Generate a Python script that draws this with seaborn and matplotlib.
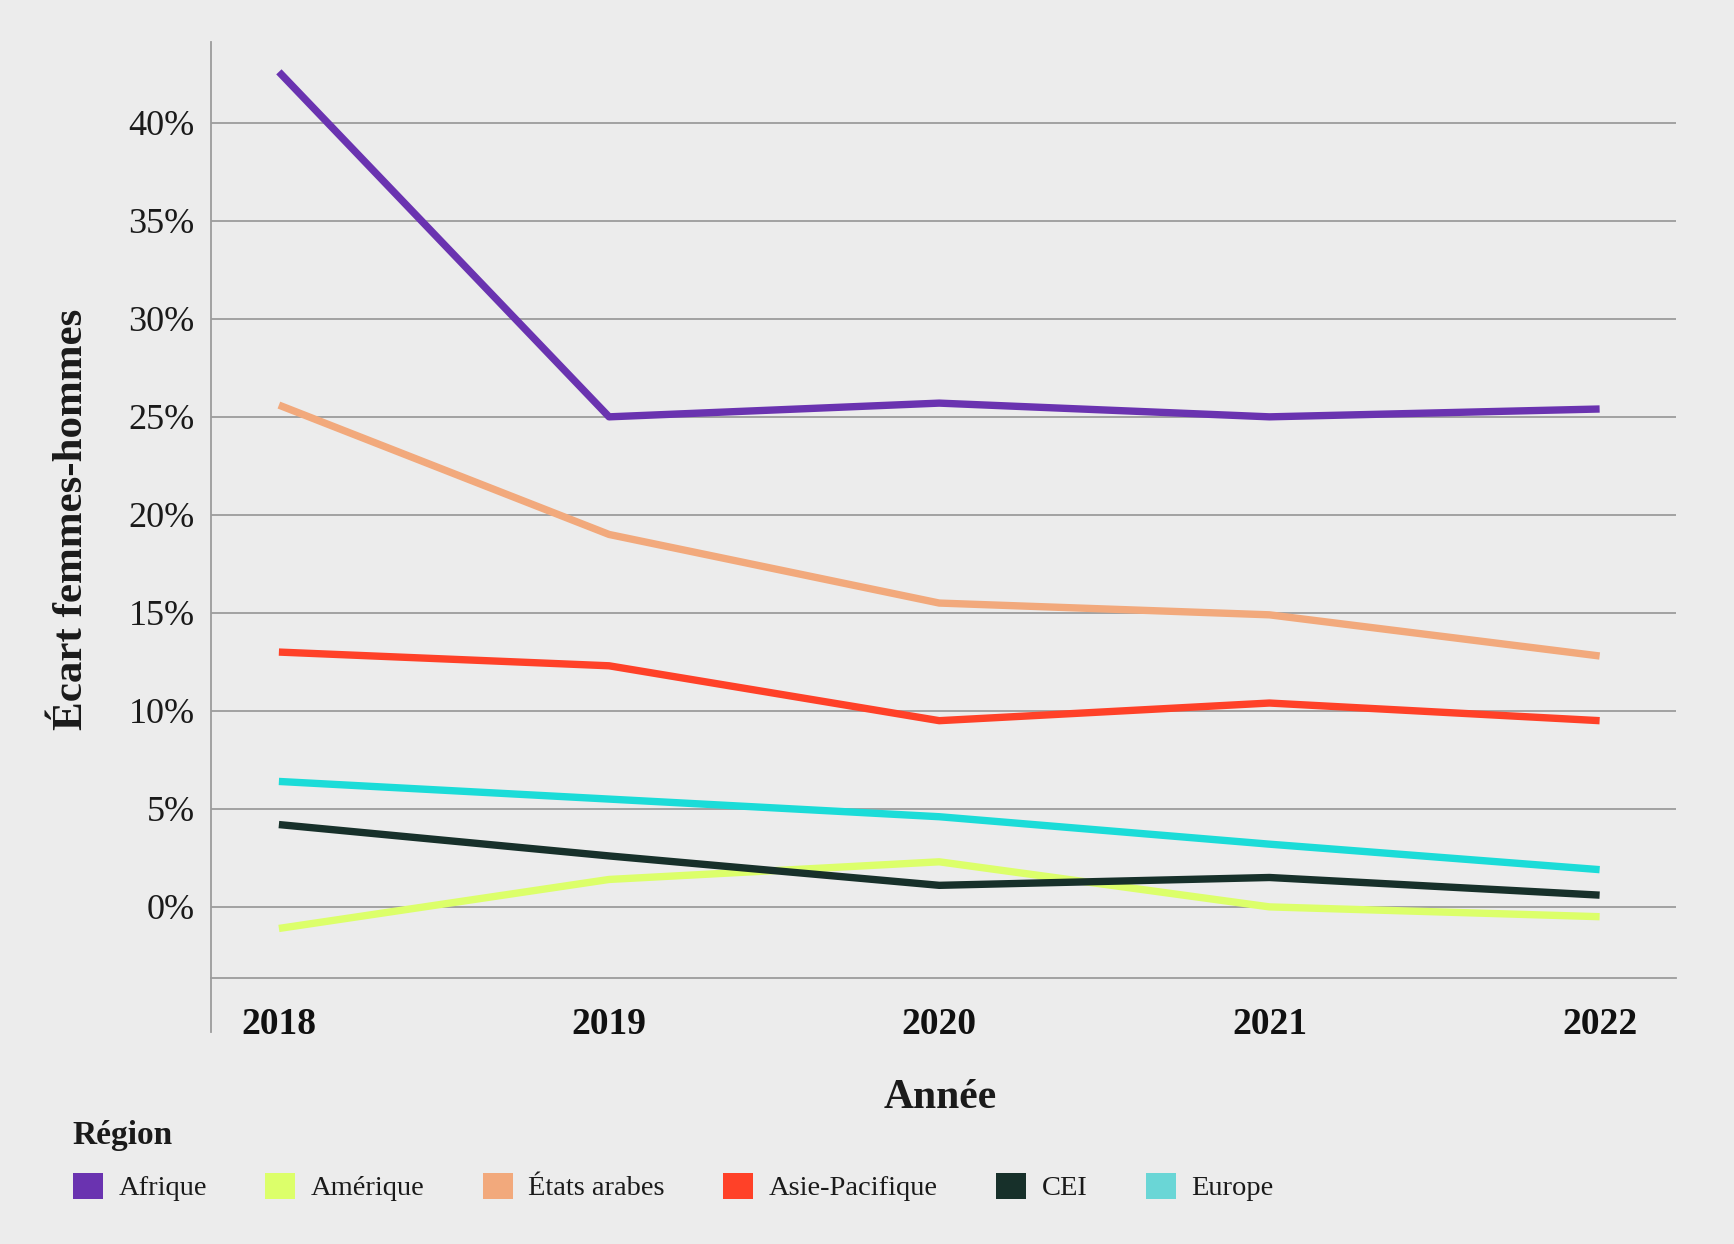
import pandas as pd
import matplotlib.pyplot as plt
import seaborn as sns
from matplotlib.patches import Patch

# Data (écart en %)
years = [2018, 2019, 2020, 2021, 2022]
regions = ["Afrique", "Amérique", "États arabes", "Asie-Pacifique", "CEI", "Europe"]
afrique = [42.6, 25.0, 25.7, 25.0, 25.4]
amerique = [-1.1, 1.4, 2.3, 0.0, -0.5]
etats_arabes = [25.6, 19.0, 15.5, 14.9, 12.8]
asie_pacifique = [13.0, 12.3, 9.5, 10.4, 9.5]
cei = [4.2, 2.6, 1.1, 1.5, 0.6]
europe = [6.4, 5.5, 4.6, 3.2, 1.9]
yticks = [0, 5, 10, 15, 20, 25, 30, 35, 40]

line_colors = ["#6a33b0", "#dcff6a", "#f2a97c", "#ff4128", "#17302a", "#1bdcd8"]
swatch_colors = ["#6a33b0", "#dcff6a", "#f2a97c", "#ff4128", "#17302a", "#6ad6d6"]

BG = "#ececec"
GRID = "#9c9c9c"


def build_frame():
    series = [afrique, amerique, etats_arabes, asie_pacifique, cei, europe]
    rows = []
    for name, vals in zip(regions, series):
        for yr, v in zip(years, vals):
            rows.append({"Année": yr, "Écart": v, "Région": name})
    return pd.DataFrame(rows)


def main():
    df = build_frame()

    sns.set_theme(style="white")
    plt.rcParams["font.family"] = ["Liberation Serif", "DejaVu Serif"]
    plt.rcParams["text.color"] = "#1a1a1a"

    fig = plt.figure(figsize=(17.34, 12.44), dpi=100, facecolor=BG)
    ax = fig.add_axes([0.1218, 0.2141, 0.8445, 0.7521])
    ax.set_facecolor(BG)

    sns.lineplot(data=df, x="Année", y="Écart", hue="Région", hue_order=regions,
                 palette=line_colors, linewidth=5.3, legend=False, ax=ax,
                 solid_capstyle="butt", zorder=3)

    ax.set_xlim(2017.795, 2022.23)
    ax.set_ylim(-3.61, 44.12)
    ax.set_yticks(yticks)
    ax.set_yticklabels([f"{t}%" for t in yticks], fontsize=26, color="#1a1a1a")
    ax.set_xticks(years)
    ax.set_xticklabels([str(y) for y in years], fontsize=27, fontweight="bold",
                       color="#111111")
    ax.tick_params(axis="y", length=0, pad=12)
    ax.tick_params(axis="x", length=0, pad=21)

    ax.grid(axis="y", color=GRID, linewidth=1.3, zorder=0)
    ax.grid(axis="x", visible=False)

    for side in ["top", "right"]:
        ax.spines[side].set_visible(False)
    ax.spines["bottom"].set_color(GRID)
    ax.spines["bottom"].set_linewidth(1.3)
    ax.spines["left"].set_color(GRID)
    ax.spines["left"].set_linewidth(1.3)
    ax.spines["left"].set_bounds(-6.4, 44.12)

    ax.set_ylabel("Écart femmes-hommes", fontsize=31, fontweight="bold",
                  color="#1a1a1a")
    ax.yaxis.set_label_coords(-0.082, 0.49)
    ax.set_xlabel("Année", fontsize=30, fontweight="bold", color="#1a1a1a")
    ax.xaxis.set_label_coords(0.498, -0.108)

    handles = [Patch(facecolor=c, edgecolor="none") for c in swatch_colors]
    leg = fig.legend(handles, regions, title="Région", loc="upper left",
                     bbox_to_anchor=(0.042, 0.0995), ncol=6, frameon=False,
                     fontsize=20.5, title_fontsize=24, handlelength=1.05,
                     handleheight=1.05, handletextpad=0.55, columnspacing=2.05,
                     labelspacing=0.75, borderpad=0, borderaxespad=0,
                     alignment="left")
    leg.get_title().set_fontweight("bold")

    fig.savefig("out.png", dpi=100, facecolor=BG)


if __name__ == "__main__":
    main()
